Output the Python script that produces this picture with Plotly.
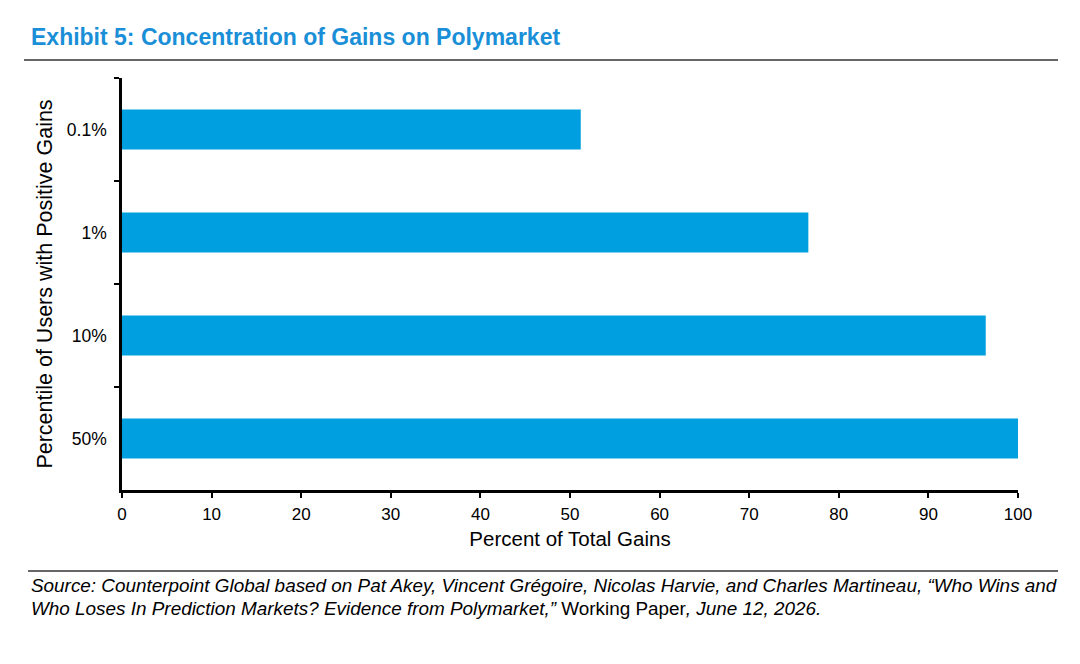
import plotly.graph_objects as go

percentiles = ['0.1%', '1%', '10%', '50%']
share_of_gains = [51.2, 76.6, 96.4, 100.0]
x_ticks = [0, 10, 20, 30, 40, 50, 60, 70, 80, 90, 100]

title_text = 'Exhibit 5: Concentration of Gains on Polymarket'
source_line1 = ('<i>Source: Counterpoint Global based on Pat Akey, Vincent Grégoire, Nicolas Harvie, '
                'and Charles Martineau, “Who Wins and</i>')
source_line2 = ('<i>Who Loses In Prediction Markets? Evidence from Polymarket,”</i> Working Paper<i>, '
                'June 12, 2026.</i>')

FONT = 'Liberation Sans, Arial, sans-serif'
BLUE = '#009FDF'

fig = go.Figure()
fig.add_trace(go.Bar(
    x=share_of_gains, y=percentiles, orientation='h',
    marker=dict(color=BLUE, line=dict(width=0)),
    width=0.39,
))

# page has an 8px body margin, so the figure is 16px smaller than the window
fig.update_layout(
    width=1064, height=648,
    margin=dict(l=114, r=54, t=70, b=166),
    paper_bgcolor='white', plot_bgcolor='white',
    font=dict(family=FONT, color='black', size=17),
    showlegend=False,
)

fig.update_xaxes(
    range=[0, 100], tickvals=x_ticks,
    showgrid=False, zeroline=False,
    showline=True, linecolor='black', linewidth=2.5,
    ticks='outside', ticklen=5, tickwidth=2, tickcolor='black',
    tickfont=dict(size=17), ticklabelstandoff=2,
    title=dict(text='Percent of Total Gains', font=dict(size=20.5), standoff=9),
)
fig.update_yaxes(
    categoryorder='array', categoryarray=percentiles, autorange=False,
    range=[3.5, -0.5],
    showgrid=False, zeroline=False,
    showline=True, linecolor='black', linewidth=2.5,
    ticks='outside', tickson='boundaries', ticklen=5, tickwidth=2, tickcolor='black',
    tickfont=dict(size=17.5), ticklabelstandoff=9,
    title=dict(text='Percentile of Users with Positive Gains', font=dict(size=21.5), standoff=9),
)

# title, rules and source note (paper coords: plot spans x 122-1018, y 78-490 px on the page)
def px_x(p):
    return (p - 122) / 896

def px_y(p):
    return (490 - p) / 412

fig.add_annotation(
    text='<b>' + title_text + '</b>', xref='paper', yref='paper',
    x=px_x(29), y=px_y(37), xanchor='left', yanchor='middle', showarrow=False,
    font=dict(family=FONT, size=23, color='#1A8FD8'),
)
fig.add_shape(type='line', xref='paper', yref='paper',
              x0=px_x(24), x1=px_x(1058), y0=px_y(60), y1=px_y(60),
              line=dict(color='#333333', width=1.5))
fig.add_shape(type='line', xref='paper', yref='paper',
              x0=px_x(28), x1=px_x(1058), y0=px_y(571), y1=px_y(571),
              line=dict(color='#333333', width=1.5))
fig.add_annotation(
    text=source_line1, xref='paper', yref='paper',
    x=px_x(29), y=px_y(585), xanchor='left', yanchor='middle', showarrow=False,
    font=dict(family=FONT, size=18.9, color='black'),
)
fig.add_annotation(
    text=source_line2, xref='paper', yref='paper',
    x=px_x(29), y=px_y(608), xanchor='left', yanchor='middle', showarrow=False,
    font=dict(family=FONT, size=18.9, color='black'),
)

fig.write_html('out.html')
